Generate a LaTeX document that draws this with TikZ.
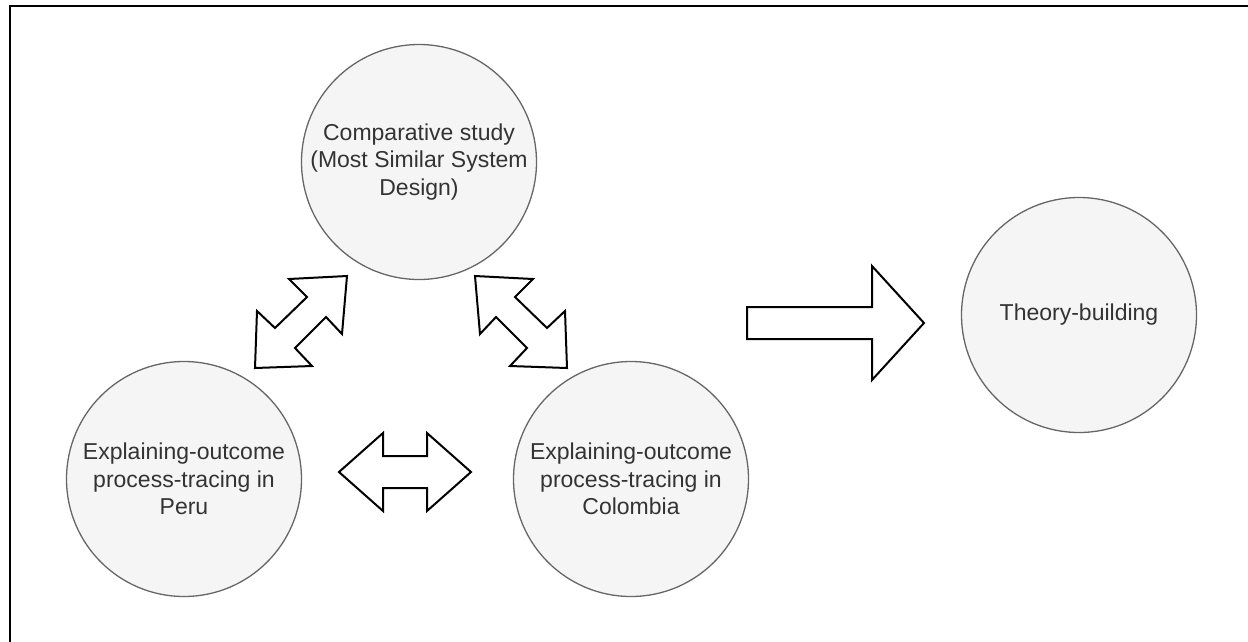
\documentclass[tikz,border=0pt]{standalone}
\usepackage{fontspec}
\setmainfont{Liberation Sans}
\begin{document}
\begin{tikzpicture}[x=1pt,y=-1pt,
  stage/.style={circle, draw=circstroke, fill=circfill, line width=1.3pt,
    minimum size=235pt, inner sep=0pt, text=circtext, align=center,
    font=\fontsize{23}{27.5}\selectfont},
  blockarrow/.style={draw=black, fill=white, line width=2pt, line join=miter}]
\definecolor{circfill}{HTML}{F5F5F5}
\definecolor{circstroke}{HTML}{666666}
\definecolor{circtext}{HTML}{333333}
\useasboundingbox (0,0) rectangle (1248,641);
% outer frame (runs off the right and bottom)
\draw[line width=2pt] (9.5,645) -- (9.5,5.5) -- (1252,5.5);

% stages
\node[stage] (comp) at (419,162) {Comparative study\\(Most Similar System\\Design)};
\node[stage] (peru) at (184,479) {Explaining-outcome\\process-tracing in\\Peru};
\node[stage] (col) at (631,479) {Explaining-outcome\\process-tracing in\\Colombia};
\node[stage] (theory) at (1079,315) {Theory-building};

% double arrow Peru <-> comparative study
\draw[blockarrow] (347,276) -- (342,334) -- (326,317) -- (295,348) -- (312,366)
  -- (255,368) -- (257,311) -- (275,328) -- (307,297) -- (289,279) -- cycle;
% double arrow comparative study <-> Colombia
\draw[blockarrow] (475,276) -- (480,334) -- (496,317) -- (527,348) -- (510,366)
  -- (567,368) -- (565,311) -- (547,328) -- (515,297) -- (533,279) -- cycle;
% double arrow Peru <-> Colombia
\draw[blockarrow] (339,472) -- (383,433) -- (383,456) -- (427,456) -- (427,433)
  -- (471,472) -- (427,511) -- (427,488) -- (383,488) -- (383,511) -- cycle;
% arrow towards theory-building
\draw[blockarrow] (747,307) -- (872,307) -- (872,266) -- (924,323) -- (872,380)
  -- (872,339) -- (747,339) -- cycle;
\end{tikzpicture}
\end{document}
